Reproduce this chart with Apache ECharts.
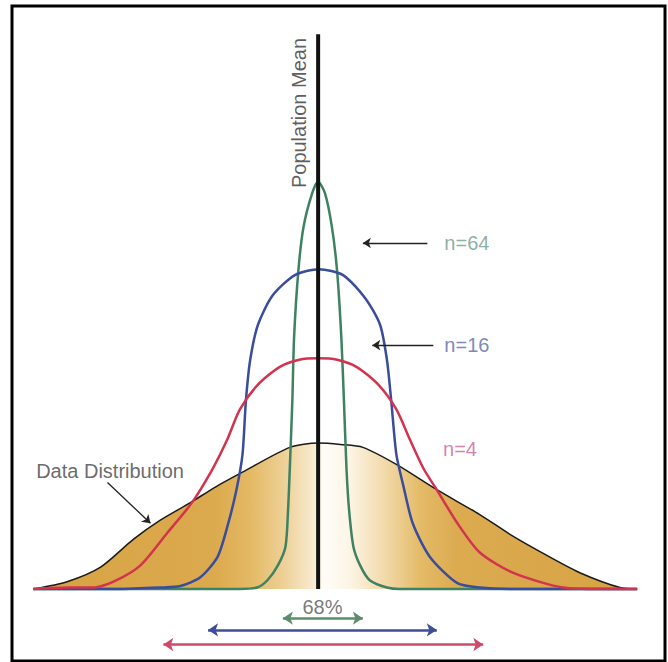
<!DOCTYPE html>
<html>
<head>
<meta charset="utf-8">
<title>Sample mean distributions</title>
<script src="https://cdn.jsdelivr.net/npm/echarts@6/dist/echarts.min.js"></script>
<style>
html,body{margin:0;padding:0;background:#fff}
#chart{width:668px;height:662px}
</style>
</head>
<body>
<div id="chart"></div>
<script>
// curves: x in units of the data spread, y relative to the data peak
const dataDist = [[-3.31,0],[-2.92,0.05],[-2.53,0.15],[-2.15,0.34],[-1.84,0.47],[-1.49,0.59],[-1.19,0.70],[-0.88,0.80],[-0.33,0.97],[0,1.00],[0.26,0.99],[0.52,0.97],[0.92,0.85],[1.38,0.68],[1.88,0.51],[2.27,0.36],[2.66,0.23],[3.05,0.11],[3.51,0.01],[3.71,0]]
const n4 = [[-3.31,0],[-2.88,0.01],[-2.62,0.01],[-2.38,0.05],[-2.07,0.16],[-1.76,0.38],[-1.47,0.59],[-1.23,0.82],[-1.06,1.02],[-0.91,1.23],[-0.70,1.40],[-0.45,1.52],[-0.22,1.57],[0,1.58],[0.22,1.57],[0.45,1.52],[0.70,1.40],[0.91,1.23],[1.07,1.02],[1.23,0.82],[1.38,0.68],[1.62,0.45],[1.88,0.25],[2.27,0.11],[2.85,0.01],[3.28,0],[3.71,0]]
const n16 = [[-3.31,0],[-2.30,0],[-1.84,0.01],[-1.60,0.02],[-1.37,0.08],[-1.17,0.22],[-1.05,0.44],[-0.95,0.68],[-0.88,0.92],[-0.84,1.29],[-0.79,1.57],[-0.70,1.81],[-0.53,2.01],[-0.27,2.15],[0.01,2.19],[0.29,2.15],[0.55,1.99],[0.72,1.81],[0.80,1.57],[0.85,1.29],[0.91,0.92],[0.99,0.71],[1.10,0.45],[1.30,0.22],[1.62,0.04],[1.88,0.01],[2.35,0],[3.71,0]]
const n64 = [[-3.31,0],[-0.91,0],[-0.71,0.01],[-0.59,0.06],[-0.47,0.16],[-0.38,0.29],[-0.35,0.54],[-0.33,0.82],[-0.30,1.29],[-0.28,1.72],[-0.23,2.18],[-0.17,2.48],[-0.07,2.71],[0,2.79],[0.08,2.71],[0.16,2.48],[0.22,2.18],[0.27,1.72],[0.30,1.29],[0.33,0.82],[0.36,0.54],[0.41,0.29],[0.49,0.16],[0.60,0.06],[0.80,0.01],[0.95,0],[3.71,0]]
const meanTop = 3.8
// +-1 sd ranges drawn under the curves
const rangeN64 = [-0.41, 0.52]
const rangeN16 = [-1.28, 1.38]
const rangeN4 = [-1.80, 1.92]
const texts = ['Population Mean', 'n=64', 'n=16', 'n=4', 'Data Distribution', '68%']

const font = 'Liberation Sans, Arial, sans-serif'
const green = '#3f8262', blue = '#3a4c9c', red = '#d2334f'

function curve(name, data, color, width){
  return {name, type:'line', data, smooth:0.25, symbol:'none', silent:true,
    lineStyle:{color, width}, z:3}
}
function arrow(a, b, color, width, both){
  const ls = {color, width, type:'solid'}
  return [{coord:a, symbol: both?'arrow':'none', symbolSize:10, lineStyle:ls},
          {coord:b, symbol:'arrow', symbolSize: both?10:8, lineStyle:ls}]
}

const chart = echarts.init(document.getElementById('chart'), null, {renderer:'svg'})
chart.setOption({
  backgroundColor:'#fff',
  animation:false,
  grid:{left:0, width:638, top:5, height:657},
  xAxis:{type:'value', min:-3.7, max:3.72, show:false},
  yAxis:{type:'value', min:-0.5, max:4, show:false},
  graphic:[{type:'rect', shape:{x:12, y:6, width:653, height:655},
    style:{fill:'none', stroke:'#000', lineWidth:3}, z:100}],
  series:[
    {name:texts[4], type:'line', data:dataDist, smooth:0.25, symbol:'none', silent:true,
      lineStyle:{color:'#1a1a1a', width:1.5}, z:2,
      areaStyle:{opacity:1, color:{type:'linear', x:0, y:0, x2:1, y2:0, colorStops:[
        {offset:0, color:'#d6a243'}, {offset:0.30, color:'#dcaa4e'}, {offset:0.36, color:'#e3b964'},
        {offset:0.42, color:'#efd39c'}, {offset:0.465, color:'#f8ebd2'}, {offset:0.48, color:'#fffdf8'},
        {offset:0.52, color:'#fdf6e8'}, {offset:0.58, color:'#f2dbab'}, {offset:0.64, color:'#e4bb68'},
        {offset:0.70, color:'#dcab50'}, {offset:1, color:'#d6a243'}]}}},
    curve('n=64', n64, green, 2.5),
    curve('n=16', n16, blue, 2.5),
    curve('n=4', n4, red, 2.5),
    {name:texts[0], type:'line', data:[[0,0],[0,meanTop]], symbol:'none', silent:true,
      lineStyle:{color:'#111', width:4}, z:5},
    {type:'scatter', symbolSize:1, itemStyle:{color:'transparent'}, silent:true, z:6,
      label:{show:true, position:'inside', fontFamily:font, fontSize:20, formatter:p=>p.data.name},
      data:[
        {name:texts[0], value:[-0.22,3.26], label:{rotate:90, color:'#333'}},
        {name:texts[1], value:[1.73,2.37], label:{color:'#6f9c8c'}},
        {name:texts[2], value:[1.73,1.67], label:{color:'#5b69a6'}},
        {name:texts[3], value:[1.65,0.96], label:{color:'#c8649a'}},
        {name:texts[4], value:[-2.42,0.81], label:{color:'#444'}},
        {name:texts[5], value:[0.05,-0.12], label:{color:'#555'}}
      ],
      markLine:{silent:true, animation:false, label:{show:false},
        data:[
          arrow([1.27,2.37],[0.52,2.37],'#222',1.3,false),
          arrow([1.34,1.67],[0.63,1.67],'#222',1.3,false),
          arrow([-2.45,0.73],[-1.95,0.45],'#222',1.3,false),
          arrow([rangeN64[0],-0.2],[rangeN64[1],-0.2],'#5c8c6c',2.5,true),
          arrow([rangeN16[0],-0.28],[rangeN16[1],-0.28],'#3d4e96',2.5,true),
          arrow([rangeN4[0],-0.38],[rangeN4[1],-0.38],'#d04a6a',2.5,true)
        ]}}
  ]
})
</script>
</body>
</html>
